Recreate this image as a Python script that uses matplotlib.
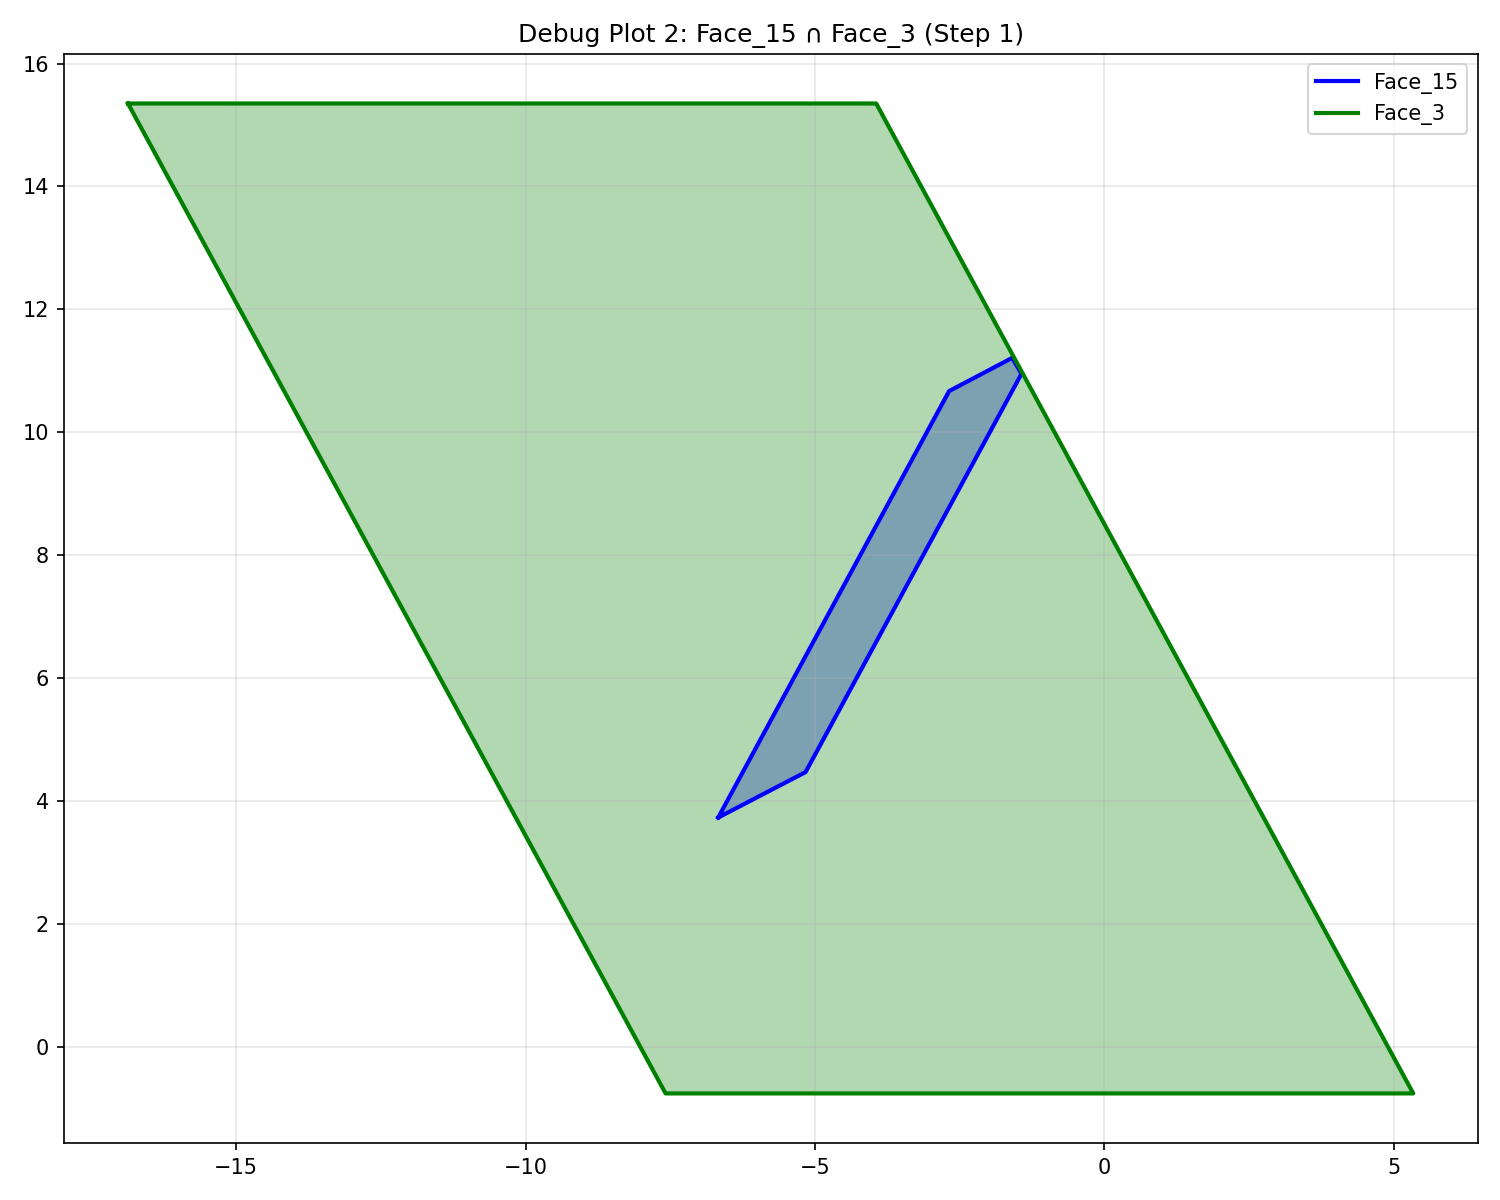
import matplotlib
matplotlib.use("Agg")
import matplotlib.pyplot as plt

face3_x = [-16.87, -3.94, 5.34, -7.58]
face3_y = [15.35, 15.35, -0.76, -0.76]

face15_x = [-6.67, -5.16, -1.43, -1.59, -2.68]
face15_y = [3.73, 4.47, 10.95, 11.21, 10.67]


def main():
    fig, ax = plt.subplots(figsize=(10, 8), dpi=150)

    ax.fill(face15_x, face15_y, color="blue", alpha=0.3)
    ax.plot(face15_x + face15_x[:1], face15_y + face15_y[:1], color="blue", lw=2, label="Face_15")

    ax.fill(face3_x, face3_y, color="green", alpha=0.3)
    ax.plot(face3_x + face3_x[:1], face3_y + face3_y[:1], color="green", lw=2, label="Face_3")

    ax.legend(loc="upper right")
    ax.set_title("Debug Plot 2: Face_15 ∩ Face_3 (Step 1)")
    ax.grid(True, alpha=0.3)
    plt.tight_layout()
    plt.savefig("out.png")


if __name__ == "__main__":
    main()
